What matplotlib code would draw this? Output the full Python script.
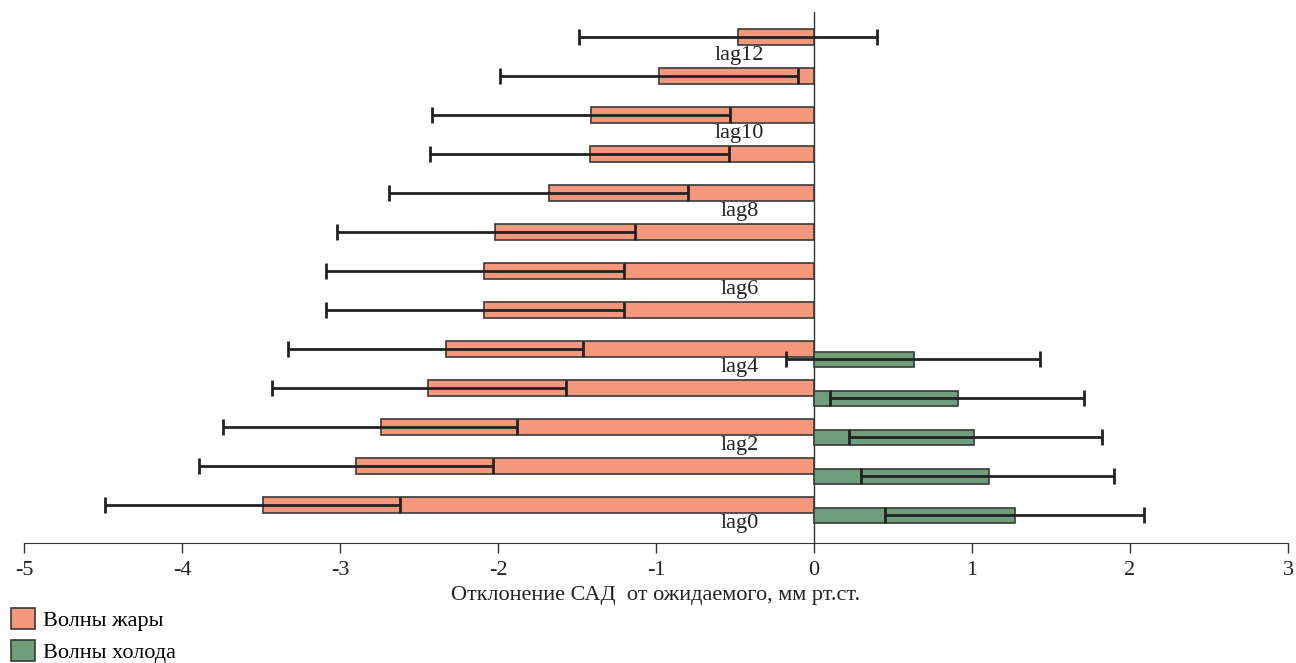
import numpy as np
import matplotlib
matplotlib.use('Agg')
import matplotlib.pyplot as plt
from matplotlib.patches import Patch
from matplotlib.ticker import FuncFormatter

plt.rcParams['font.family'] = ['Liberation Serif', 'DejaVu Serif']

# Heat waves (lag0..lag12): estimate and CI bounds
heat_lags = np.arange(13)
heat_val = [-3.49, -2.90, -2.74, -2.44, -2.33, -2.09, -2.09, -2.02, -1.68, -1.42, -1.41, -0.98, -0.48]
heat_lo = [-4.49, -3.89, -3.74, -3.43, -3.33, -3.09, -3.09, -3.02, -2.69, -2.43, -2.42, -1.99, -1.49]
heat_hi = [-2.62, -2.03, -1.88, -1.57, -1.46, -1.20, -1.20, -1.13, -0.80, -0.54, -0.53, -0.10, 0.40]

# Cold waves (lag0..lag4)
cold_lags = np.arange(5)
cold_val = [1.27, 1.11, 1.01, 0.91, 0.63]
cold_lo = [0.45, 0.30, 0.22, 0.10, -0.18]
cold_hi = [2.09, 1.90, 1.82, 1.71, 1.43]

lag_labels = ['lag0', 'lag2', 'lag4', 'lag6', 'lag8', 'lag10', 'lag12']
label_pos = [0, 2, 4, 6, 8, 10, 12]

heat_color = '#F5977A'
cold_color = '#6E9F7A'
edge = '#3a3a3a'
fs = 16

fig = plt.figure(figsize=(12.96, 6.63), dpi=100)
ax = fig.add_axes([0.0185, 0.181, 0.9753, 0.801])

h_val = np.array(heat_val)
c_val = np.array(cold_val)
y_heat = heat_lags.astype(float)
y_cold = cold_lags - 0.26

ax.barh(y_heat, h_val, height=0.41, color=heat_color, edgecolor=edge, linewidth=1.2, zorder=2)
ax.barh(y_cold, c_val, height=0.38, color=cold_color, edgecolor=edge, linewidth=1.2, zorder=2)

ax.errorbar(h_val, y_heat, xerr=[h_val - np.array(heat_lo), np.array(heat_hi) - h_val],
            fmt='none', ecolor='#222222', elinewidth=2, capsize=6, capthick=2, zorder=3)
ax.errorbar(c_val, y_cold, xerr=[c_val - np.array(cold_lo), np.array(cold_hi) - c_val],
            fmt='none', ecolor='#222222', elinewidth=2, capsize=6, capthick=2, zorder=3)

ax.axvline(0, color='#333333', linewidth=1, zorder=1)

for lab, p in zip(lag_labels, label_pos):
    ax.text(-0.47, p - 0.47, lab, ha='center', va='center', fontsize=fs, color='#222222')

ax.set_xlim(-5, 3)
ax.set_ylim(-0.97, 12.64)
ax.set_xticks(range(-5, 4))
ax.xaxis.set_major_formatter(FuncFormatter(lambda v, p: '%d' % v))
ax.set_yticks([])
for s in ['top', 'right', 'left']:
    ax.spines[s].set_visible(False)
ax.spines['bottom'].set_color('#333333')
ax.tick_params(axis='x', direction='out', length=7, width=1, colors='#333333',
               labelsize=fs, labelcolor='#222222', pad=6)
ax.set_xlabel('Отклонение САД  от ожидаемого, мм рт.ст.', fontsize=fs, color='#222222', labelpad=4)

handles = [Patch(facecolor=heat_color, edgecolor=edge, linewidth=1.2, label='Волны жары'),
           Patch(facecolor=cold_color, edgecolor=edge, linewidth=1.2, label='Волны холода')]
fig.legend(handles=handles, loc='upper left', bbox_to_anchor=(-0.0015, 0.1025), frameon=False,
           fontsize=fs, handlelength=1.08, handleheight=1.05, handletextpad=0.35,
           labelspacing=0.4, borderaxespad=0.3, borderpad=0.3)

fig.savefig('out.png', dpi=100)
